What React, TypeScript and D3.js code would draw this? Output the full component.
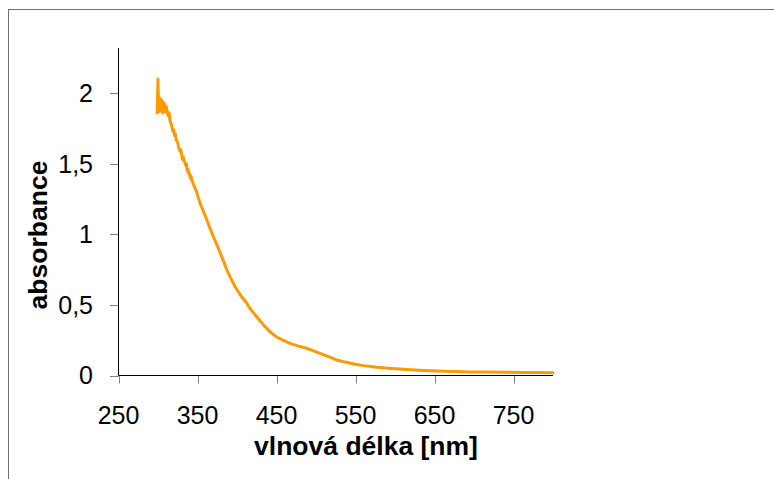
import React from "react";
import * as d3 from "d3";

// Absorption spectrum: wavelength (nm) and absorbance
const wavelengths: number[] = [
  299, 300, 300.5, 301, 302, 303, 304, 305, 306, 307, 308, 309, 310, 311, 312, 313, 314, 315,
  316, 317, 318, 319, 320, 321, 322, 323, 324, 325, 326, 327, 328, 329, 330, 331, 332, 333, 334,
  335, 336, 337, 338, 339, 340, 341, 342, 343, 344, 345, 346, 348, 349, 351, 354, 357, 362, 366,
  370, 375, 379, 383, 387, 392, 398, 405, 412, 417, 423, 428, 434, 440, 446, 451, 458, 467, 477,
  488, 497, 505, 515, 526, 537, 548, 560, 577, 595, 611, 630, 653, 675, 695, 717, 737, 760, 780, 800,
];
const absorbance: number[] = [
  1.86, 2.1, 1.88, 1.98, 1.87, 1.96, 1.9, 1.95, 1.86, 1.88, 1.93, 1.87, 1.91, 1.89, 1.86, 1.84, 1.86, 1.81,
  1.79, 1.78, 1.75, 1.73, 1.74, 1.7, 1.71, 1.67, 1.66, 1.65, 1.62, 1.6, 1.59, 1.6, 1.56, 1.53, 1.55, 1.52, 1.51,
  1.49, 1.5, 1.45, 1.46, 1.43, 1.43, 1.4, 1.41, 1.38, 1.37, 1.35, 1.34, 1.31, 1.3, 1.26, 1.21, 1.17, 1.1, 1.04,
  0.985, 0.92, 0.865, 0.81, 0.75, 0.69, 0.625, 0.565, 0.515, 0.47, 0.43, 0.395, 0.355, 0.32, 0.29, 0.27, 0.25, 0.228, 0.21,
  0.193, 0.175, 0.157, 0.135, 0.11, 0.095, 0.082, 0.07, 0.058, 0.05, 0.044, 0.038, 0.032, 0.028, 0.025, 0.024, 0.023, 0.022, 0.021, 0.02,
];

const xTicks: number[] = [250, 350, 450, 550, 650, 750];
const yTicks: number[] = [0, 0.5, 1, 1.5, 2];
const xTitle = "vlnová délka [nm]";
const yTitle = "absorbance";

const W = 774;
const H = 479;
const FONT = "'Liberation Sans', Arial, sans-serif";

export default function App() {
  const x = d3.scaleLinear().domain([250, 800]).range([118.5, 553]);
  const y = d3.scaleLinear().domain([0, 2.32]).range([375.5, 48]);

  const points: [number, number][] = wavelengths.map((w, i) => [w, absorbance[i]]);
  const line = d3
    .line<[number, number]>()
    .x((d) => x(d[0]))
    .y((d) => y(d[1]));

  const fmt = (v: number) => String(v).replace(".", ",");
  const y0 = y(0);
  const xLeft = x(250);

  return (
    <svg
      width={W}
      height={H}
      style={{ position: "absolute", left: 0, top: 0, background: "#fff" }}
      fontFamily={FONT}
    >
      {/* outer frame */}
      <rect x={8.5} y={9.5} width={W + 20} height={H + 20} fill="none" stroke="#707070" strokeWidth={1} />

      {/* y ticks and labels */}
      {yTicks.map((t) => (
        <g key={"y" + t}>
          <line x1={110} x2={xLeft} y1={Math.round(y(t)) + 0.5} y2={Math.round(y(t)) + 0.5} stroke="#808080" strokeWidth={1} />
          <text x={93} y={y(t)} dy="0.35em" textAnchor="end" fontSize={25} fill="#000">
            {fmt(t)}
          </text>
        </g>
      ))}

      {/* x ticks and labels */}
      {xTicks.map((t) => (
        <g key={"x" + t}>
          <line x1={Math.round(x(t)) + 0.5} x2={Math.round(x(t)) + 0.5} y1={y0} y2={383.5} stroke="#808080" strokeWidth={1} />
          <text x={x(t)} y={424} textAnchor="middle" fontSize={25} fill="#000">
            {t}
          </text>
        </g>
      ))}

      {/* axis lines */}
      <line x1={xLeft} x2={xLeft} y1={y.range()[1]} y2={y0} stroke="#000" strokeWidth={1} />
      <line x1={xLeft} x2={x(800)} y1={y0} y2={y0} stroke="#000" strokeWidth={1} />

      {/* spectrum */}
      <path
        d={line(points) || ""}
        fill="none"
        stroke="#FF9900"
        strokeWidth={3}
        strokeLinejoin="round"
        strokeLinecap="round"
      />

      {/* axis titles */}
      <text x={366} y={455} textAnchor="middle" fontSize={26.5} fontWeight="bold" fill="#000">
        {xTitle}
      </text>
      <text
        transform="translate(46.5,235) rotate(-90)"
        textAnchor="middle"
        fontSize={26.5}
        fontWeight="bold"
        fill="#000"
      >
        {yTitle}
      </text>
    </svg>
  );
}
